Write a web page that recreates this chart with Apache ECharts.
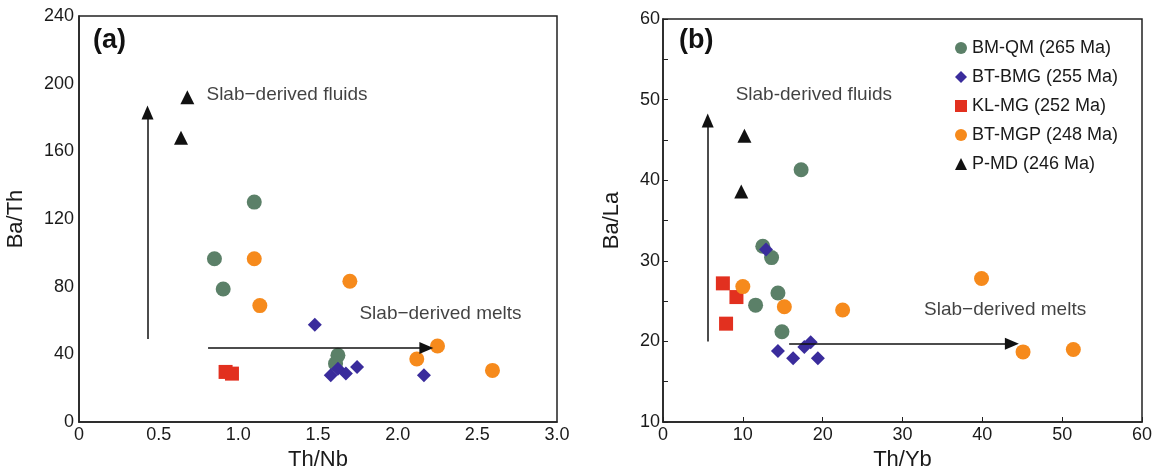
<!DOCTYPE html>
<html>
<head>
<meta charset="utf-8">
<script src="https://cdn.jsdelivr.net/npm/echarts@6/dist/echarts.min.js"></script>
<style>
  html, body { margin: 0; padding: 0; background: #fff; }
  #main { width: 1153px; height: 469px; }
</style>
</head>
<body>
<div id="main"></div>
<script>
// ---- panel (a): Th/Nb vs Ba/Th ----
var aBMQM  = [[1.10, 130], [0.85, 96.5], [0.905, 78.6], [1.625, 39.4], [1.61, 34.5]];
var aBTBMG = [[1.48, 57.5], [1.58, 27.6], [1.625, 31.5], [1.675, 28.6], [1.745, 32.5], [2.165, 27.6]];
var aKLMG  = [[0.92, 29.6], [0.96, 28.6]];
var aBTMGP = [[1.10, 96.5], [1.135, 68.8], [1.70, 83.2], [2.25, 44.9], [2.12, 37.2], [2.595, 30.5]];
var aPMD   = [[0.68, 192], [0.64, 168]];

// ---- panel (b): Th/Yb vs Ba/La ----
var bBMQM  = [[17.3, 41.3], [12.5, 31.8], [13.6, 30.4], [14.4, 26.0], [11.6, 24.5], [14.9, 21.2]];
var bBTBMG = [[12.9, 31.4], [14.4, 18.8], [16.3, 17.9], [17.7, 19.3], [18.5, 19.9], [19.4, 17.9]];
var bKLMG  = [[7.5, 27.2], [9.2, 25.5], [7.9, 22.2]];
var bBTMGP = [[10.0, 26.8], [15.2, 24.3], [22.5, 23.9], [39.9, 27.8], [45.1, 18.7], [51.4, 19.0]];
var bPMD   = [[10.2, 45.5], [9.8, 38.6]];

var seriesNames = ['BM-QM (265 Ma)', 'BT-BMG (255 Ma)', 'KL-MG (252 Ma)', 'BT-MGP (248 Ma)', 'P-MD (246 Ma)'];
var colors  = ['#5b8068', '#3a2c9c', '#e2301f', '#f68a1c', '#111111'];
var symbols = ['circle', 'diamond', 'rect', 'circle', 'triangle'];
var sizes   = [15, 14, 14, 15, 14];

// trend arrows and annotations
var aArrows = [[[0.43, 49], [0.43, 183]], [[0.81, 43.7], [2.18, 43.7]]];
var bArrows = [[[5.6, 20], [5.6, 47.4]], [[15.8, 19.7], [43.7, 19.7]]];
var aNotes = [[0.80, 193.5, 'Slab\u2212derived fluids'], [1.76, 64, 'Slab\u2212derived melts']];
var bNotes = [[9.1, 50.6, 'Slab-derived fluids'], [32.7, 23.9, 'Slab\u2212derived melts']];

var FONT = 'Arial, "Liberation Sans", sans-serif';

var chart = echarts.init(document.getElementById('main'));

function pointSeries(data, i, idx) {
    return {
        name: seriesNames[i],
        type: 'scatter',
        xAxisIndex: idx,
        yAxisIndex: idx,
        symbol: symbols[i],
        symbolSize: sizes[i],
        itemStyle: { color: colors[i], opacity: 1 },
        data: data,
        z: 3
    };
}

function arrowSeries(arrows, notes, idx) {
    return {
        type: 'scatter',
        xAxisIndex: idx,
        yAxisIndex: idx,
        symbolSize: 0,
        silent: true,
        data: notes.map(function(n) { return { value: [n[0], n[1]], label: { formatter: n[2] } }; }),
        label: {
            show: true,
            position: 'right',
            distance: 0,
            color: '#111',
            fontSize: 19,
            fontFamily: FONT
        },
        markLine: {
            silent: true,
            symbol: ['none', 'triangle'],
            symbolSize: [12, 14],
            label: { show: false },
            lineStyle: { color: '#111', width: 1.5, type: 'solid' },
            data: arrows.map(function(a) { return [{ coord: a[0] }, { coord: a[1] }]; })
        }
    };
}

var tickLabel = { color: '#1a1a1a', fontSize: 18, fontFamily: FONT };
var axisNameStyle = { color: '#1a1a1a', fontSize: 22, fontFamily: FONT };
var frame = { show: true, lineStyle: { color: '#222', width: 1.5 } };

var option = {
    animation: false,
    grid: [
        { left: 79, top: 16, width: 478, height: 406, show: true, borderColor: '#222', borderWidth: 1.5, outerBoundsMode: 'none', containLabel: false },
        { left: 663, top: 19, width: 479, height: 403, show: true, borderColor: '#222', borderWidth: 1.5, outerBoundsMode: 'none', containLabel: false }
    ],
    legend: {
        data: seriesNames,
        orient: 'vertical',
        left: 950,
        top: 34,
        itemGap: 11,
        itemWidth: 12,
        itemHeight: 12,
        textStyle: { color: '#1a1a1a', fontSize: 18, fontFamily: FONT },
        selectedMode: false
    },
    xAxis: [
        {
            gridIndex: 0, type: 'value', min: 0, max: 3, interval: 0.5,
            name: 'Th/Nb', nameLocation: 'middle', nameGap: 25, nameTextStyle: axisNameStyle,
            axisLine: frame, axisTick: { show: false }, splitLine: { show: false },
            axisLabel: Object.assign({ margin: 4, formatter: function(v) { return v === 0 ? '0' : v.toFixed(1); } }, tickLabel)
        },
        {
            gridIndex: 1, type: 'value', min: 0, max: 60, interval: 10,
            name: 'Th/Yb', nameLocation: 'middle', nameGap: 25, nameTextStyle: axisNameStyle,
            axisLine: frame, axisTick: { show: true, inside: true, length: 5, lineStyle: { color: '#222' } },
            splitLine: { show: false },
            axisLabel: Object.assign({ margin: 4 }, tickLabel)
        }
    ],
    yAxis: [
        {
            gridIndex: 0, type: 'value', min: 0, max: 240, interval: 40,
            name: 'Ba/Th', nameLocation: 'middle', nameGap: 52, nameTextStyle: axisNameStyle,
            axisLine: frame, axisTick: { show: false }, splitLine: { show: false },
            axisLabel: Object.assign({ margin: 5 }, tickLabel)
        },
        {
            gridIndex: 1, type: 'value', min: 10, max: 60, interval: 10,
            name: 'Ba/La', nameLocation: 'middle', nameGap: 40, nameTextStyle: axisNameStyle,
            axisLine: frame, axisTick: { show: true, inside: true, length: 5, lineStyle: { color: '#222' } },
            minorTick: { show: true, splitNumber: 2, length: 5, lineStyle: { color: '#222' } },
            splitLine: { show: false },
            axisLabel: Object.assign({ margin: 3 }, tickLabel)
        }
    ],
    graphic: [
        { type: 'text', left: 93, top: 27, style: { text: '(a)', fontSize: 27, fontWeight: 'bold', fill: '#111', fontFamily: FONT } },
        { type: 'text', left: 679, top: 27, style: { text: '(b)', fontSize: 27, fontWeight: 'bold', fill: '#111', fontFamily: FONT } }
    ],
    series: [
        arrowSeries(aArrows, aNotes, 0),
        pointSeries(aBMQM, 0, 0),
        pointSeries(aBTBMG, 1, 0),
        pointSeries(aKLMG, 2, 0),
        pointSeries(aBTMGP, 3, 0),
        pointSeries(aPMD, 4, 0),
        arrowSeries(bArrows, bNotes, 1),
        pointSeries(bBMQM, 0, 1),
        pointSeries(bBTBMG, 1, 1),
        pointSeries(bKLMG, 2, 1),
        pointSeries(bBTMGP, 3, 1),
        pointSeries(bPMD, 4, 1)
    ]
};
chart.setOption(option);
</script>
</body>
</html>
